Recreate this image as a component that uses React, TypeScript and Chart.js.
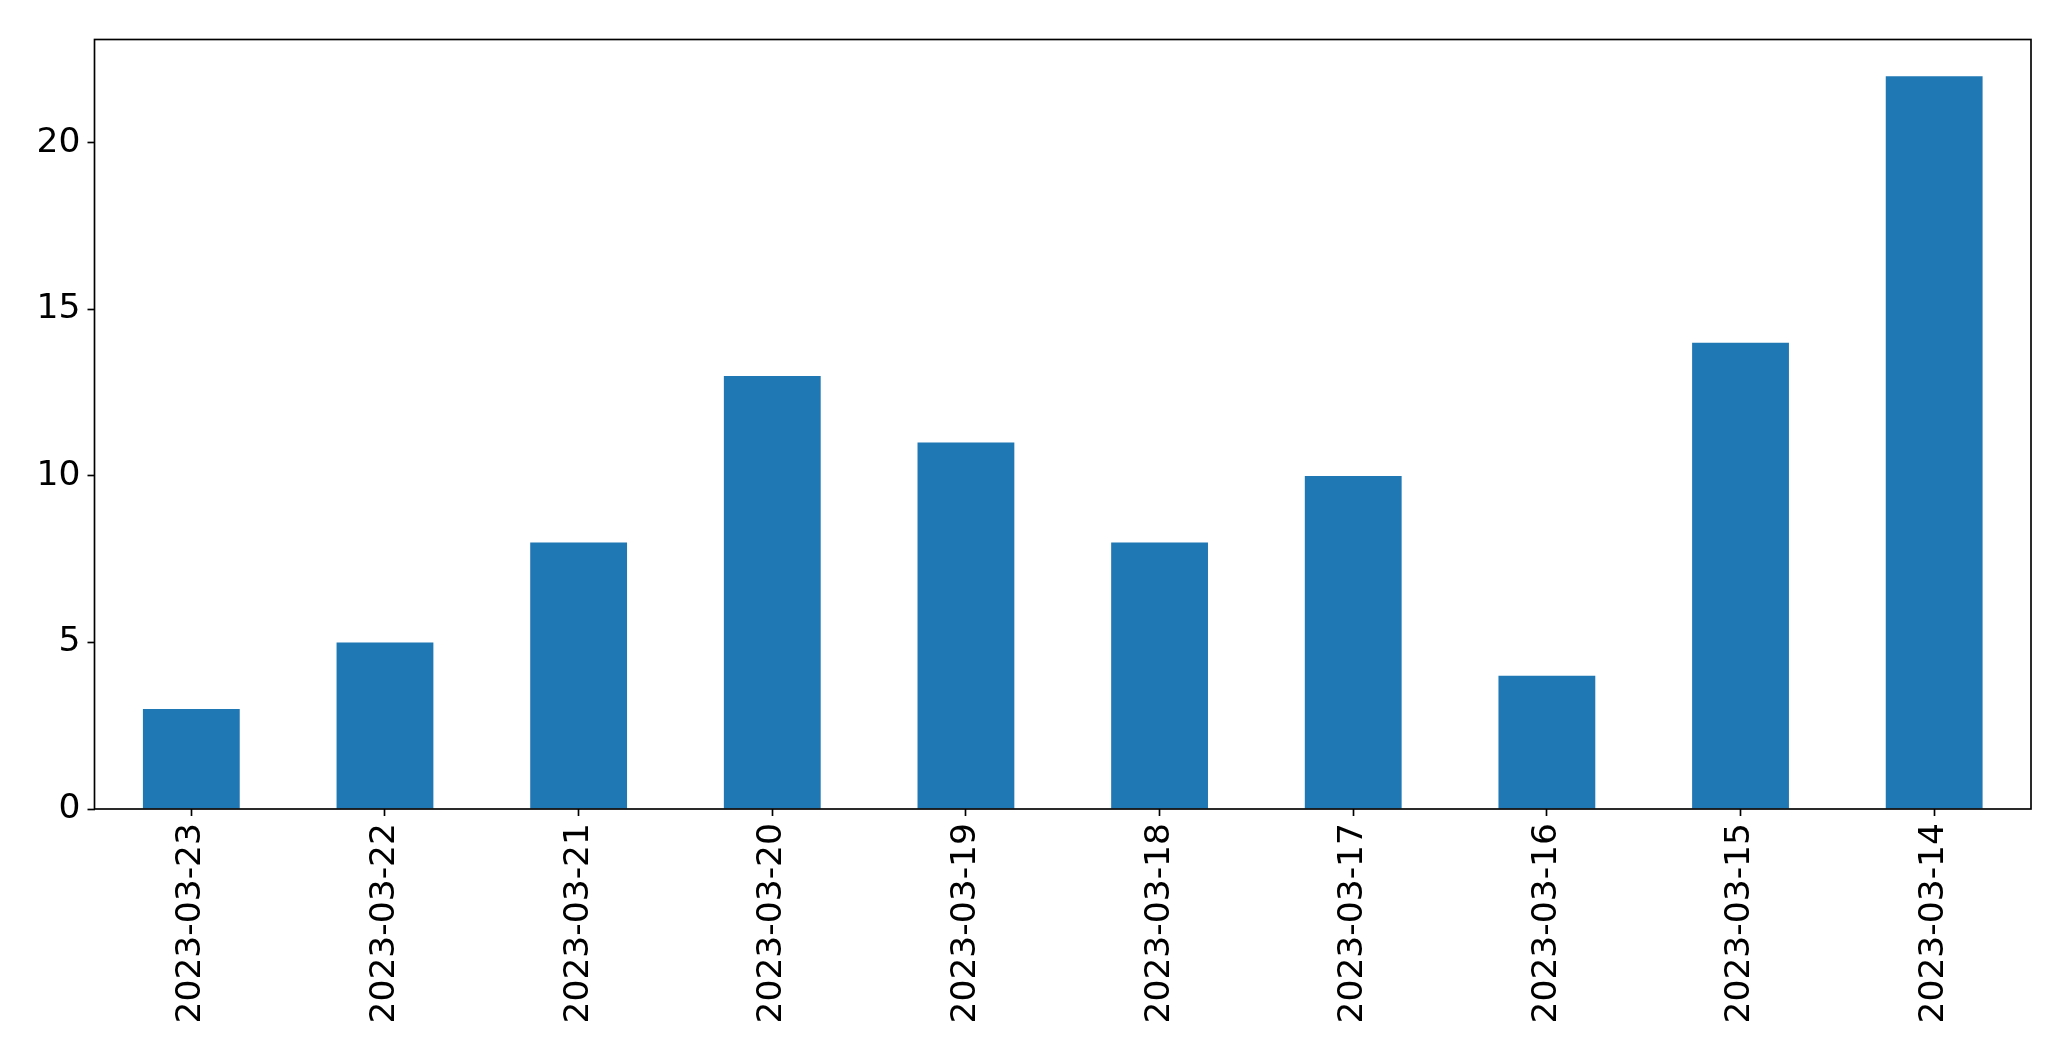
import React, { useEffect, useRef } from "react";
import { Chart, registerables } from "chart.js";

Chart.register(...registerables);

const categories = [
  "2023-03-23",
  "2023-03-22",
  "2023-03-21",
  "2023-03-20",
  "2023-03-19",
  "2023-03-18",
  "2023-03-17",
  "2023-03-16",
  "2023-03-15",
  "2023-03-14",
];
const counts = [3, 5, 8, 13, 11, 8, 10, 4, 14, 22];
const yTicks = [0, 5, 10, 15, 20];

const W = 2071;
const H = 1061;
const LEFT = 94.5;
const TOP = 39.5;
const RIGHT = 2031;
const BOTTOM = 809;

const frame = {
  id: "frame",
  afterDraw(chart: any) {
    const { ctx, chartArea } = chart;
    ctx.save();
    ctx.strokeStyle = "#000";
    ctx.lineWidth = 1.67;
    ctx.strokeRect(
      chartArea.left,
      chartArea.top,
      chartArea.right - chartArea.left,
      chartArea.bottom - chartArea.top
    );
    ctx.restore();
  },
};

export default function App() {
  const ref = useRef<HTMLCanvasElement>(null);
  useEffect(() => {
    document.body.style.margin = "0";
    const ctx = ref.current!.getContext("2d")!;
    const font = { family: "'DejaVu Sans'", size: 34.5 };
    const chart = new Chart(ctx, {
      type: "bar",
      data: {
        labels: categories,
        datasets: [
          {
            data: counts,
            backgroundColor: "#1f77b4",
            borderWidth: 0,
            categoryPercentage: 1,
            barPercentage: 0.5,
          },
        ],
      },
      plugins: [frame],
      options: {
        animation: false,
        responsive: false,
        devicePixelRatio: 1,
        layout: { padding: { top: TOP, right: W - RIGHT, left: 0, bottom: 0 } },
        plugins: { legend: { display: false }, tooltip: { enabled: false } },
        scales: {
          x: {
            offset: true,
            grid: {
              offset: false,
              drawOnChartArea: false,
              drawTicks: true,
              tickLength: 7,
              tickColor: "#000",
              tickWidth: 1.67,
            },
            border: { display: false },
            ticks: {
              color: "#000",
              font,
              minRotation: 90,
              maxRotation: 90,
              autoSkip: false,
              padding: 7,
            },
            afterFit(scale: any) {
              scale.height = H - BOTTOM;
            },
          },
          y: {
            min: 0,
            max: 23.1,
            grid: {
              drawOnChartArea: false,
              drawTicks: true,
              tickLength: 7,
              tickColor: "#000",
              tickWidth: 1.67,
            },
            border: { display: false },
            ticks: { color: "#000", font, padding: 7 },
            afterBuildTicks(scale: any) {
              scale.ticks = yTicks.map((v) => ({ value: v }));
            },
            afterFit(scale: any) {
              scale.width = LEFT;
            },
          },
        },
      },
    });
    return () => chart.destroy();
  }, []);
  return (
    <div style={{ position: "absolute", left: 0, top: 0, width: W, height: H, background: "#fff" }}>
      <canvas ref={ref} width={W} height={H} style={{ width: W, height: H, display: "block" }} />
    </div>
  );
}
